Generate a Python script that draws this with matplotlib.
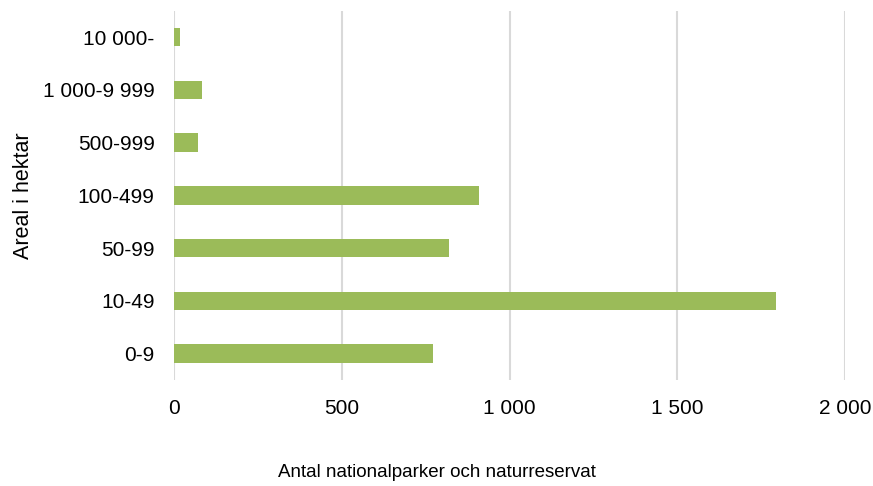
import numpy as np
import matplotlib.pyplot as plt
from matplotlib.ticker import FuncFormatter

plt.rcParams['font.family'] = ['Liberation Sans', 'DejaVu Sans']

# Areal klasser (hektar) och antal nationalparker/naturreservat
categories = ['0-9', '10-49', '50-99', '100-499', '500-999', '1 000-9 999', '10 000-']
counts = [772, 1794, 819, 908, 71, 82, 17]
x_ticks = [0, 500, 1000, 1500, 2000]

fig = plt.figure(figsize=(8.73, 4.86), dpi=100)
ax = fig.add_axes([0.1993, 0.218, 0.7687, 0.76])

y = np.arange(len(categories))
ax.barh(y, counts, height=0.35, color='#9BBB59', zorder=3)

ax.set_xlim(0, 2000)
ax.set_ylim(-0.5, len(categories) - 0.5)
ax.set_yticks(y)
ax.set_yticklabels(categories)
ax.set_xticks(x_ticks)
ax.xaxis.set_major_formatter(FuncFormatter(lambda v, p: f'{int(v):,}'.replace(',', ' ')))

ax.grid(axis='x', color='#D9D9D9', linewidth=1.5, zorder=0)
for s in ax.spines.values():
    s.set_visible(False)
ax.tick_params(axis='both', length=0, labelsize=15, colors='black')
ax.tick_params(axis='y', pad=14)
ax.tick_params(axis='x', pad=13.5)

ax.set_xlabel('Antal nationalparker och naturreservat', fontsize=13.5)
ax.xaxis.set_label_coords(0.392, -0.226)
ax.set_ylabel('Areal i hektar', fontsize=15.5)
ax.yaxis.set_label_coords(-0.208, 0.5)

fig.savefig('out.png', dpi=100)
